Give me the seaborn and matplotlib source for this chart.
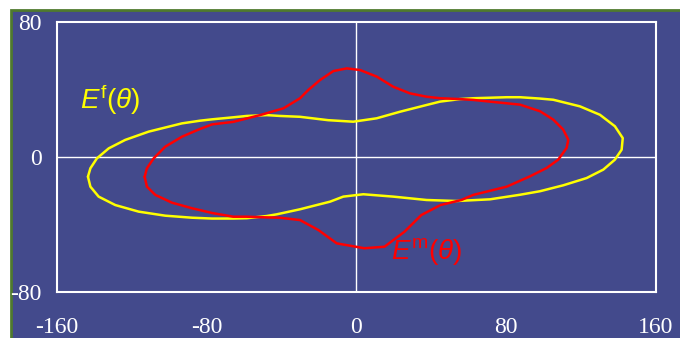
import matplotlib

matplotlib.use("Agg")
import matplotlib.pyplot as plt
import numpy as np
import seaborn as sns
from matplotlib.patches import Rectangle

# --- datos (x = ángulo, y = valor) ------------------------------------------
ef_x = [-143.3, -142.0, -138.5, -132.2, -123.4, -110.9, -93.1, -83.4, -77.0,
        -65.7, -58.5, -47.8, -40.7, -30.0, -15.0, -1.6, 10.9, 23.4, 37.6,
        44.8, 55.4, 62.5, 80.4, 87.5, 98.2, 105.3, 119.5, 130.2, 138.2, 142.4,
        141.8, 138.2, 132.0, 123.1, 110.6, 98.2, 87.5, 71.5, 53.7, 37.6, 19.8,
        3.8, -6.9, -14.0, -24.7, -30.0, -42.5, -47.8, -58.5, -65.7, -77.0,
        -87.7, -102.0, -116.2, -128.7, -137.6, -142.0]
ef_y = [-11.5, -6.5, -0.6, 5.3, 10.3, 15.2, 20.1, 21.7, 22.5,
        23.7, 24.5, 25.0, 24.5, 24.0, 22.0, 21.1, 23.1, 27.0, 31.0,
        33.0, 34.5, 35.0, 35.6, 35.6, 34.8, 34.1, 30.2, 25.2, 18.4, 11.4,
        4.5, -1.4, -7.3, -12.3, -16.6, -20.1, -22.2, -24.9, -25.9, -25.3, -23.3,
        -21.9, -23.3, -26.3, -29.3, -30.8, -33.8, -34.8, -36.1, -36.3, -36.3,
        -35.8, -34.6, -32.2, -28.3, -23.3, -17.4]

em_x = [-113.0, -111.8, -108.2, -102.0, -93.1, -84.1, -77.0, -65.7, -58.5,
        -51.4, -38.9, -30.0, -25.6, -19.3, -12.2, -5.0, 2.1, 11.0, 19.8,
        28.7, 37.6, 44.8, 55.4, 62.5, 80.4, 87.5, 98.2, 105.3, 110.6, 113.3,
        112.4, 107.9, 101.8, 92.8, 80.4, 62.5, 56.2, 45.0, 34.8, 25.8, 15.1,
        4.4, -10.4, -20.2, -30.0, -40.7, -47.8, -58.5, -65.7, -77.0, -87.7,
        -98.4, -107.3, -111.8]
em_y = [-11.5, -6.5, -0.6, 6.3, 12.2, 16.5, 19.5, 21.0, 23.0,
        25.0, 29.0, 35.0, 39.9, 45.8, 51.1, 52.7, 51.7, 47.8, 41.8,
        37.9, 35.9, 35.0, 34.5, 34.0, 32.0, 31.2, 27.3, 22.3, 16.4, 10.4,
        5.5, -1.4, -6.3, -11.3, -17.4, -22.3, -25.3, -28.3, -34.2, -44.1, -53.0,
        -53.9, -51.0, -43.1, -37.2, -35.8, -35.6, -35.2, -35.2, -33.0, -30.2,
        -26.9, -22.3, -17.4]

ticks_x = [-160, -80, 0, 80, 160]
ticks_y = [-80, 0, 80]

AZUL = "#434a8c"
AMARILLO = "#ffff00"
ROJO = "#ff0000"

sns.set_style("dark")
plt.rcParams["mathtext.fontset"] = "custom"
plt.rcParams["mathtext.rm"] = "Liberation Sans"
plt.rcParams["mathtext.it"] = "Liberation Sans:italic"

fig = plt.figure(figsize=(6.8, 3.38), dpi=100, facecolor="white")
# panel de fondo con borde verde arriba y a la izquierda
fig.patches.append(Rectangle((11 / 680, -0.1), 1.2, (338 - 10) / 338 + 0.1,
                             transform=fig.transFigure, facecolor=AZUL,
                             edgecolor="#4f7a2e", linewidth=2, zorder=-5))

ax = fig.add_axes([56.7 / 680, (338 - 292.3) / 338, 599 / 680, 270 / 338])
ax.set_facecolor(AZUL)

ax.axhline(0, color="white", lw=1, zorder=1)
ax.axvline(0, color="white", lw=1, zorder=1)

sns.lineplot(x=np.append(ef_x, ef_x[0]), y=np.append(ef_y, ef_y[0]),
             sort=False, estimator=None, color=AMARILLO, lw=1.8, ax=ax,
             zorder=3, solid_joinstyle="round")
sns.lineplot(x=np.append(em_x, em_x[0]), y=np.append(em_y, em_y[0]),
             sort=False, estimator=None, color=ROJO, lw=1.8, ax=ax,
             zorder=4, solid_joinstyle="round")

ax.set_xlim(-160, 160)
ax.set_ylim(-80, 80)
ax.set_xticks(ticks_x)
ax.set_yticks(ticks_y)
ax.set_xticklabels([str(t) for t in ticks_x])
ax.set_yticklabels([str(t) for t in ticks_y])
for lab in ax.get_xticklabels() + ax.get_yticklabels():
    lab.set_family("Liberation Serif")
    lab.set_fontsize(17)
    lab.set_color("white")
ax.tick_params(axis="x", length=0, pad=18)
ax.tick_params(axis="y", length=0, pad=11)
ax.grid(False)
for sp in ax.spines.values():
    sp.set_visible(True)
    sp.set_color("white")
    sp.set_linewidth(1.5)

ax.text(-147.6, 34, r"$E^{\mathrm{f}}(\theta)$", color=AMARILLO,
        fontsize=20, va="center", ha="left")
ax.text(18.4, -55.9, r"$E^{\mathrm{m}}(\theta)$", color=ROJO,
        fontsize=20, va="center", ha="left")

ax.set_xlabel("")
ax.set_ylabel("")
fig.savefig("out.png", dpi=100, facecolor="white")
